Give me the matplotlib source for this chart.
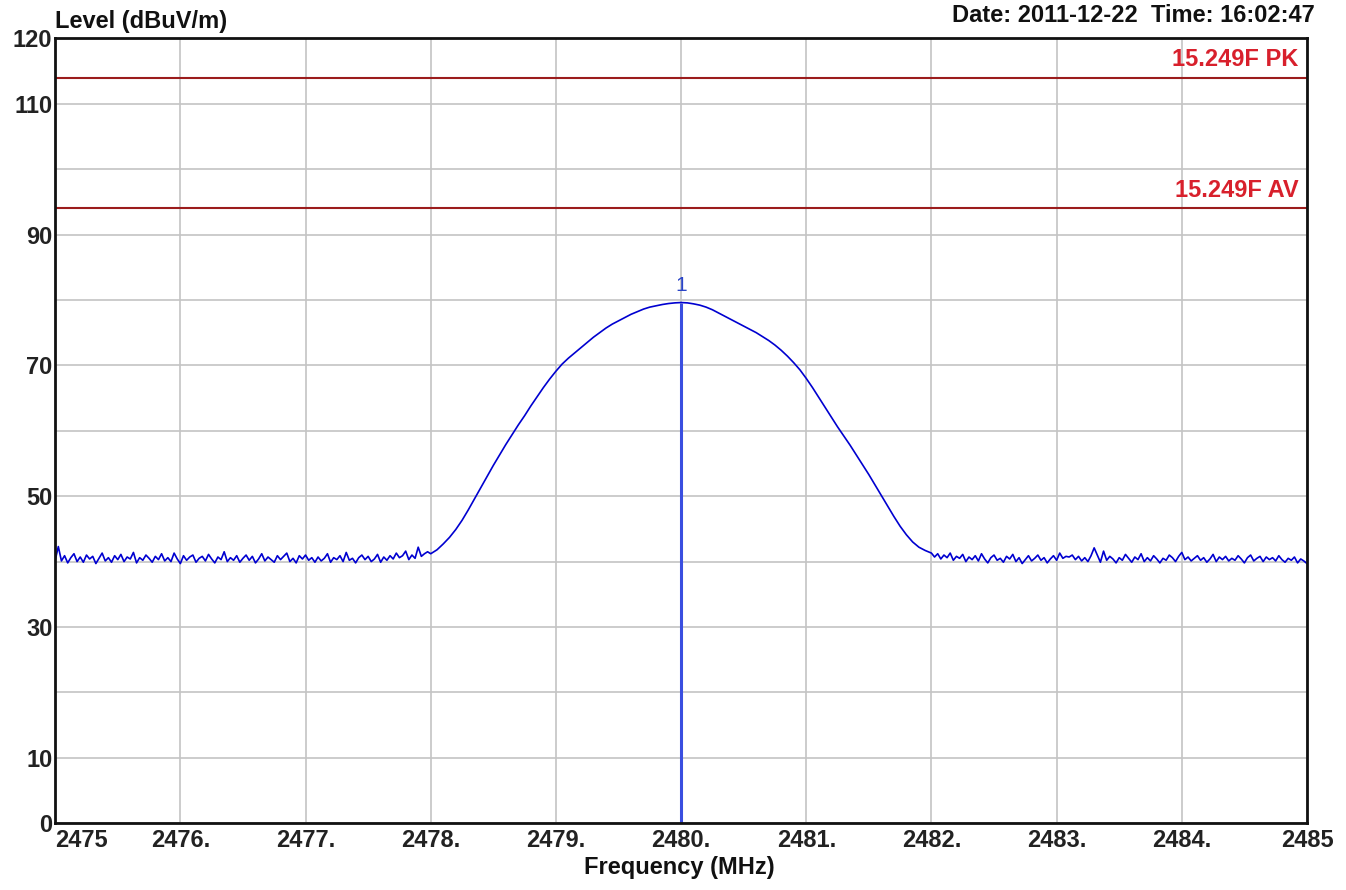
# Spectrum plot: 2480 MHz carrier vs 15.249 limits

import numpy as np
import matplotlib.pyplot as plt

plt.rcParams['font.family'] = ['Liberation Sans', 'DejaVu Sans']

# noise floor left of the carrier, 2475.000 .. 2477.975 MHz, 0.025 MHz step
floor_left = [
    40.2, 42.3, 40.1, 40.9, 39.8, 40.6, 41.2, 40.0, 40.7, 39.9, 41.0, 40.4,
    40.8, 39.7, 40.5, 41.3, 40.1, 40.6, 39.9, 40.9, 40.3, 41.1, 40.0, 40.7,
    40.4, 41.4, 39.8, 40.6, 40.2, 41.0, 40.5, 39.9, 40.8, 40.3, 41.2, 40.1,
    40.6, 40.0, 41.3, 40.4, 39.7, 40.9, 40.2, 40.7, 41.0, 39.9, 40.5, 40.8,
    40.1, 41.1, 40.4, 39.8, 40.7, 40.3, 41.5, 40.0, 40.6, 40.2, 40.9, 39.9,
    40.5, 41.0, 40.2, 40.8, 39.8, 40.4, 41.2, 40.1, 40.7, 40.3, 39.9, 40.9,
    40.3, 40.8, 41.3, 40.0, 40.5, 39.8, 40.9, 40.4, 41.0, 40.2, 40.6, 39.9,
    40.7, 40.1, 40.5, 41.2, 39.9, 40.6, 40.3, 40.9, 40.0, 41.4, 40.2, 40.5,
    39.8, 40.6, 41.0, 40.3, 40.8, 40.0, 40.4, 41.1, 39.9, 40.7, 40.2, 40.9,
    40.4, 41.3, 40.6, 40.9, 41.6, 40.3, 41.0, 40.5, 42.2, 40.8, 41.2, 41.5,
]

# carrier, 2478.00 .. 2482.00 MHz, 0.05 MHz step
carrier = [
    41.2, 41.8, 42.7, 43.7, 44.9, 46.3, 47.9, 49.6, 51.3, 53.0,
    54.7, 56.3, 57.9, 59.4, 60.9, 62.3, 63.8, 65.2, 66.6, 67.9,
    69.1, 70.2, 71.1, 71.9, 72.7, 73.5, 74.3, 75.0, 75.7, 76.3,
    76.8, 77.3, 77.8, 78.2, 78.6, 78.9, 79.1, 79.3, 79.45, 79.55,
    79.6,
    79.55, 79.4, 79.2, 78.9, 78.5, 78.0, 77.5, 77.0, 76.5, 76.0,
    75.5, 75.0, 74.4, 73.8, 73.1, 72.3, 71.4, 70.4, 69.3, 68.0,
    66.6, 65.1, 63.6, 62.1, 60.6, 59.2, 57.8, 56.3, 54.8, 53.3,
    51.7, 50.1, 48.5, 46.9, 45.4, 44.1, 43.0, 42.2, 41.7, 41.3,
]

# noise floor right of the carrier, 2482.025 .. 2485.000 MHz, 0.025 MHz step
floor_right = [
    40.7, 41.2, 40.4, 41.0, 40.6, 41.3, 40.2, 40.8, 40.5, 41.1, 40.0, 40.7,
    40.3, 40.9, 40.1, 41.2, 40.4, 39.8, 40.6, 41.0, 40.2, 40.5, 39.9, 40.8,
    40.4, 41.1, 40.0, 40.6, 39.7, 40.3, 40.9, 40.1, 40.5, 41.0, 40.2, 40.6,
    39.8, 40.4, 40.9, 40.2, 41.3, 40.5, 40.8, 40.7, 41.0, 40.3, 40.8, 40.1,
    40.6, 40.0, 40.9, 42.1, 41.0, 39.9, 41.6, 40.2, 40.8, 40.4, 39.8, 40.6,
    40.2, 41.1, 40.5, 39.9, 40.7, 40.3, 41.2, 40.0, 40.6, 40.1, 40.9, 40.4,
    39.8, 40.5, 40.2, 41.0, 40.6, 40.0, 40.8, 41.4, 40.3, 40.7, 40.1, 40.5,
    40.9, 40.2, 40.6, 39.9, 40.4, 41.1, 40.0, 40.7, 40.3, 40.8, 40.1, 40.5,
    40.2, 40.9, 40.4, 39.8, 40.6, 41.0, 40.1, 40.5, 40.8, 40.0, 40.7, 40.3,
    40.6, 40.1, 40.9, 40.3, 39.9, 40.5, 40.2, 40.7, 39.8, 40.4, 40.1, 39.7,
]

f_left = 2475.0 + 0.025 * np.arange(len(floor_left))
f_carrier = 2478.0 + 0.05 * np.arange(len(carrier))
f_right = 2482.025 + 0.025 * np.arange(len(floor_right))

freq = np.concatenate([f_left, f_carrier, f_right])
level = np.concatenate([floor_left, carrier, floor_right])

limit_pk = 114.0
limit_av = 94.0
marker_freq = 2480.0
marker_level = 79.6

xticks = np.arange(2475, 2486)
xlabels = ['2475'] + [f'{v}.' for v in range(2476, 2485)] + ['2485']
yticks = np.arange(0, 130, 10)
ylabels = [str(v) if v in (0, 10, 30, 50, 70, 90, 110, 120) else '' for v in yticks]

fig = plt.figure(figsize=(13.46, 8.9), dpi=100)
ax = fig.add_axes([0.041, 0.075, 0.930, 0.882])

ax.set_xlim(2475, 2485)
ax.set_ylim(0, 120)
ax.set_xticks(xticks)
ax.set_yticks(yticks)
ax.set_xticklabels(xlabels, fontsize=17, fontweight='bold', color='#222222')
ax.set_yticklabels(ylabels, fontsize=17, fontweight='bold', color='#222222')
ax.get_xticklabels()[0].set_ha('left')
ax.tick_params(length=0, pad=4)
ax.tick_params(axis='y', pad=2)
ax.grid(True, color='#c4c4c4', linewidth=1.2)
ax.set_axisbelow(True)
for s in ax.spines.values():
    s.set_linewidth(2)
    s.set_color('#111111')

# limit lines
ax.axhline(limit_pk, color='#9b1c1c', linewidth=1.5)
ax.axhline(limit_av, color='#9b1c1c', linewidth=1.5)
ax.text(2484.93, limit_pk + 1.0, '15.249F PK', color='#d8202c', fontsize=17,
        fontweight='bold', ha='right', va='bottom')
ax.text(2484.93, limit_av + 1.0, '15.249F AV', color='#d8202c', fontsize=17,
        fontweight='bold', ha='right', va='bottom')

# trace
ax.plot(freq, level, color='#0000d0', linewidth=1.2)

# marker 1
ax.vlines(marker_freq, 0, marker_level, color='#3a4ee0', linewidth=2.2)
ax.text(marker_freq, marker_level + 1.2, '1', color='#2a45c8', fontsize=15,
        ha='center', va='bottom')

fig.text(0.041, 0.963, 'Level (dBuV/m)', fontsize=17, fontweight='bold',
         color='#111111', ha='left', va='bottom')
fig.text(0.977, 0.970, 'Date: 2011-12-22  Time: 16:02:47', fontsize=17,
         fontweight='bold', color='#111111', ha='right', va='bottom')
fig.text(0.505, 0.012, 'Frequency (MHz)', fontsize=17, fontweight='bold',
         color='#111111', ha='center', va='bottom')

fig.savefig('out.png', dpi=100)
